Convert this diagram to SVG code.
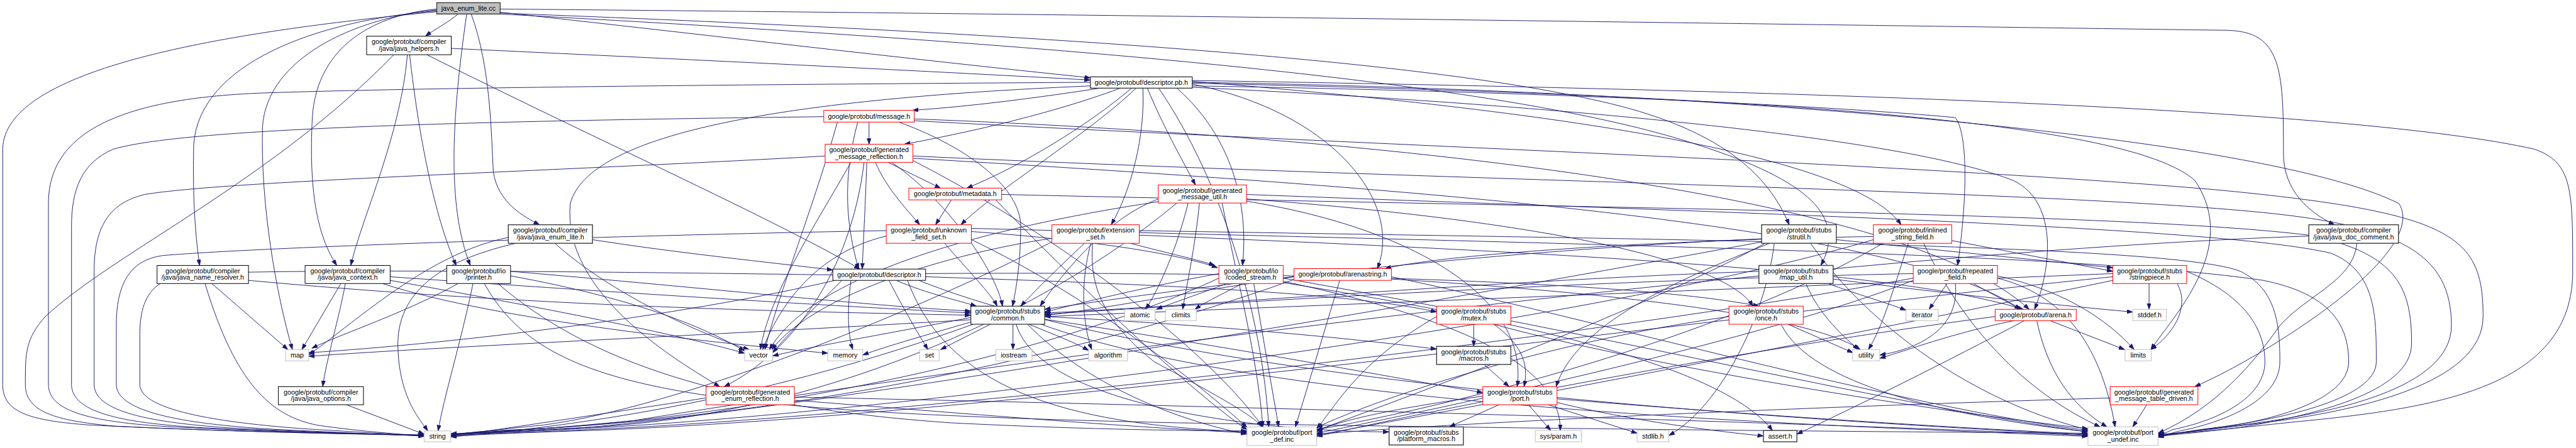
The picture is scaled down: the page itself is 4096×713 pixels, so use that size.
<svg xmlns="http://www.w3.org/2000/svg" width="4096" height="713" viewBox="0 0 4096 713">
<defs>
<style>
.e path{fill:none;stroke:#191970;stroke-width:1.3;marker-end:url(#a)}
.n rect{fill:#fff;stroke:#000;stroke-width:1.4}
.n.r rect{stroke:#ff0000}
.n.g rect{stroke:#bfbfbf}
.n.d rect{stroke:#404040;stroke-width:2}
.n.root rect{fill:#bfbfbf;stroke:#404040;stroke-width:2}
.n text{font-family:"Liberation Sans",Arial,sans-serif;font-size:15px;text-anchor:middle;fill:#000}
</style>
<marker id="a" markerWidth="14" markerHeight="10" refX="13" refY="4.5" orient="auto" markerUnits="userSpaceOnUse"><path d="M0,0 L13,4.5 L0,9 z" fill="#191970" stroke="#191970" stroke-width="1"/></marker>
</defs>
<rect width="4096" height="713" fill="#fff"/>
<g transform="scale(0.7197)">
<g id="edges" class="e">
<path d="M1012,31 C990,50 960,65 940,80"/>
<path d="M1031,31 C1000,250 985,450 1039,587"/>
<path d="M1041,31 C1085,150 1085,300 1090,380 C1100,450 1160,480 1192,497"/>
<path d="M965,20 C830,32 700,100 690,260 C682,420 700,520 744,587"/>
<path d="M965,22 C780,40 590,130 580,280 C575,450 610,650 646,773"/>
<path d="M965,24 C700,45 440,140 428,320 C425,450 433,530 441,587"/>
<path d="M965,26 C500,70 8,150 6,330 L6,850 C6,910 60,930 200,940 C500,955 800,960 937,962"/>
<path d="M1105,27 C1500,70 2000,130 2409,172"/>
<path d="M1105,20 C2500,32 4400,60 4920,67 C5040,70 5045,150 5045,340 C5045,420 5100,470 5158,497"/>
<path d="M1105,29 C2200,70 3200,130 3600,240 C3850,310 3920,420 3953,497"/>
<path d="M1105,31 C2200,90 3300,170 3750,320 C4000,400 4080,480 4023,587"/>
<path d="M997,107 C1600,135 2100,160 2409,177"/>
<path d="M905,121 C925,300 960,480 1008,587"/>
<path d="M900,121 C885,300 800,480 775,587"/>
<path d="M870,121 C600,400 250,560 100,700 C56,750 56,780 56,850 C56,910 120,930 250,942 C500,955 800,960 937,963"/>
<path d="M943,121 C1300,300 1700,480 1900,595"/>
<path d="M468,627 L636,773"/>
<path d="M453,627 C520,850 600,920 700,940 C800,955 900,961 937,964"/>
<path d="M549,620 C1200,680 1800,690 2145,697"/>
<path d="M753,627 L667,773"/>
<path d="M763,627 C750,700 720,800 713,855"/>
<path d="M862,612 C1400,650 1900,680 2145,692"/>
<path d="M862,620 C1200,680 1500,740 1645,781"/>
<path d="M845,627 C1100,710 1600,760 1829,781"/>
<path d="M765,895 L937,960"/>
<path d="M1045,627 C1020,750 980,880 968,953"/>
<path d="M1012,627 C900,690 750,740 689,770"/>
<path d="M1128,610 C1400,660 1550,720 1645,776"/>
<path d="M1128,600 C1600,640 1900,675 2145,688"/>
<path d="M1100,627 C1300,800 1600,900 2100,935 C2400,950 2600,952 2755,953"/>
<path d="M1070,627 C1200,860 1500,910 2600,935 C3500,950 4200,955 4613,958"/>
<path d="M1309,530 C1500,560 1700,580 1840,597"/>
<path d="M1123,525 C950,560 800,700 682,785"/>
<path d="M1226,538 C1350,650 1550,740 1655,773"/>
<path d="M1140,538 C1000,570 880,630 879,760 C880,880 930,930 945,953"/>
<path d="M2430,195 C2300,215 2150,235 2016,244"/>
<path d="M2475,195 C2300,260 2100,300 1998,319"/>
<path d="M2500,195 C2400,280 2250,370 2136,416"/>
<path d="M2510,195 C2400,300 2200,420 2123,497"/>
<path d="M2525,195 C2530,300 2500,420 2455,497"/>
<path d="M2535,195 C2570,280 2610,350 2641,409"/>
<path d="M2409,182 C1800,186 1000,192 600,205 C250,215 107,300 107,450 L107,850 C107,910 200,935 400,945 C650,957 850,961 937,962"/>
<path d="M2600,195 C2720,300 2760,450 2745,587"/>
<path d="M2634,186 C2950,250 3100,450 3043,594"/>
<path d="M2634,182 C3800,200 5000,300 5300,450 C5370,560 5000,790 4849,855"/>
<path d="M2634,180 C3500,250 4100,350 4200,497"/>
<path d="M2634,190 C3300,200 4000,230 4320,260 C4350,300 4345,450 4325,587"/>
<path d="M2634,193 C3400,230 4200,300 4450,400 C4550,450 4530,600 4495,684"/>
<path d="M2634,184 C3800,210 4700,260 4850,400 C4950,550 4800,700 4752,773"/>
<path d="M2634,178 C4000,200 5200,240 5600,330 C5684,360 5684,420 5684,600 C5684,850 5400,900 5100,930 C4950,945 4850,958 4768,960"/>
<path d="M2560,195 C2700,400 2790,700 2803,944"/>
<path d="M2409,190 C1700,220 1300,300 1260,450 C1240,650 1500,800 1590,855"/>
<path d="M1920,270 L1920,319"/>
<path d="M1986,270 C2150,330 2255,420 2255,500 C2255,580 2245,640 2237,677"/>
<path d="M1820,258 C1000,268 400,285 250,330 C180,360 158,420 158,500 L158,850 C158,910 260,935 450,946 C680,957 860,961 937,962"/>
<path d="M1850,270 C1800,450 1720,650 1690,773"/>
<path d="M1895,270 C1860,400 1870,500 1897,595"/>
<path d="M2020,263 C3000,300 4200,420 4483,684"/>
<path d="M2020,267 C3000,320 4200,360 4900,420 C5420,470 5486,520 5486,700 C5486,850 5200,910 5000,935 C4900,948 4820,958 4768,961"/>
<path d="M1962,359 L2078,416"/>
<path d="M1934,359 C1960,420 2010,470 2032,497"/>
<path d="M1823,345 C1200,380 500,400 320,430 C235,450 208,510 208,600 L208,850 C208,910 330,935 520,947 C720,957 870,961 937,963"/>
<path d="M1909,359 C1880,600 1750,780 1600,855"/>
<path d="M1915,359 C1912,450 1908,520 1905,595"/>
<path d="M1970,359 C2100,450 2200,600 2215,677"/>
<path d="M1880,359 C1800,500 1700,650 1680,773"/>
<path d="M2017,345 C3200,400 4500,420 5000,470 C5300,500 5416,560 5416,720 C5416,860 5150,915 4950,940 C4870,950 4810,958 4768,962"/>
<path d="M2017,355 C2300,500 2650,750 2790,944"/>
<path d="M2017,350 C3200,420 4200,500 4464,684"/>
<path d="M2102,442 L2067,497"/>
<path d="M2213,430 C3500,460 4700,470 5100,520 C5300,560 5328,640 5328,760 C5328,870 5100,920 4950,945 C4870,955 4800,962 4768,964"/>
<path d="M2200,442 C2400,650 2650,880 2755,950"/>
<path d="M2559,440 C2450,480 2350,600 2298,677"/>
<path d="M2625,449 C2600,550 2560,640 2531,684"/>
<path d="M2650,449 C2640,550 2620,640 2613,684"/>
<path d="M2600,449 C2300,700 1800,920 1300,945 C1150,952 1050,958 996,960"/>
<path d="M2559,446 C2200,500 1800,600 1700,773"/>
<path d="M2754,430 C3800,470 4900,500 5150,560 C5250,600 5250,700 5250,800 C5250,880 5050,925 4900,945 C4840,952 4800,960 4768,965"/>
<path d="M2700,449 C2730,600 2780,800 2790,944"/>
<path d="M2754,440 C3300,480 3800,560 3873,677"/>
<path d="M2754,445 C3100,500 3380,650 3352,855"/>
<path d="M2087,538 C2140,600 2190,650 2203,677"/>
<path d="M1958,510 C1400,520 600,545 360,565 C285,575 257,630 257,720 L257,850 C257,910 400,937 600,949 C780,958 880,962 937,964"/>
<path d="M1958,522 C1800,560 1720,680 1685,773"/>
<path d="M2146,512 C2400,530 2600,560 2690,592"/>
<path d="M2146,530 C2400,650 2650,850 2755,945"/>
<path d="M2146,505 C3500,540 4600,560 5000,620 C5150,650 5189,720 5189,800 C5189,890 5000,935 4880,948 C4830,955 4790,963 4768,966"/>
<path d="M2396,538 C2330,600 2280,650 2255,677"/>
<path d="M2410,538 C2380,650 2400,740 2412,773"/>
<path d="M2324,527 C2100,560 1800,650 1705,773"/>
<path d="M2497,538 C2580,560 2650,575 2684,587"/>
<path d="M2414,538 C2408,620 2425,700 2550,800 C2700,880 2770,920 2788,944"/>
<path d="M2517,510 C3700,530 4800,540 4950,600 C5030,640 5037,720 5037,800 C5037,890 4900,935 4830,950 C4800,956 4780,964 4768,967"/>
<path d="M2324,535 C2000,700 1500,900 1200,940 C1100,950 1030,958 996,961"/>
<path d="M2517,520 C3500,560 4200,600 4470,684"/>
<path d="M1980,620 C2050,650 2120,665 2157,677"/>
<path d="M1964,620 C2000,690 2030,740 2050,773"/>
<path d="M1860,620 C1800,680 1740,740 1707,780"/>
<path d="M1880,620 C1870,700 1875,745 1884,773"/>
<path d="M1845,620 C1500,700 1000,760 682,780"/>
<path d="M1840,608 C1300,600 700,595 430,605 C335,612 309,660 309,740 L309,850 C309,910 500,937 700,950 C840,958 900,962 937,965"/>
<path d="M2005,620 C2100,880 2400,940 2755,955"/>
<path d="M2045,605 C2800,600 3600,620 3886,677"/>
<path d="M2045,612 C2600,630 3000,650 3174,690"/>
<path d="M2030,620 C2600,850 4000,930 4613,962"/>
<path d="M2710,627 C2650,650 2590,670 2555,684"/>
<path d="M2745,627 C2700,650 2660,670 2640,684"/>
<path d="M2770,627 L2825,944"/>
<path d="M2693,605 C2500,640 2350,680 2308,690"/>
<path d="M2693,615 C2300,800 1600,930 1150,950 C1080,955 1030,958 996,962"/>
<path d="M2835,615 C3600,750 4200,900 4613,955"/>
<path d="M2835,622 C3200,700 3450,800 3447,952"/>
<path d="M2835,625 C3300,700 3800,800 3916,952"/>
<path d="M2859,612 C2600,650 2400,690 2308,697"/>
<path d="M2960,620 L2862,944"/>
<path d="M3074,612 C3500,700 4200,900 4613,952"/>
<path d="M3074,617 C3600,650 4000,700 4110,773"/>
<path d="M2859,618 C2300,820 1600,935 1100,952 C1050,955 1020,958 996,963"/>
<path d="M2188,717 L2078,773"/>
<path d="M2238,717 L2238,773"/>
<path d="M2273,717 C2330,740 2380,760 2405,775"/>
<path d="M2145,702 C1950,740 1800,765 1707,787"/>
<path d="M2145,707 C1600,740 1000,765 682,788"/>
<path d="M2150,717 C1700,880 1300,940 996,966"/>
<path d="M2145,712 C2050,740 1960,765 1906,785"/>
<path d="M2308,700 C2700,720 3000,750 3174,772"/>
<path d="M2308,706 C2800,780 3100,840 3276,868"/>
<path d="M2245,717 C2300,900 2800,955 3069,955"/>
<path d="M2270,717 C2400,850 2600,930 2755,960"/>
<path d="M2300,717 C2800,900 4000,940 4613,965"/>
<path d="M3256,717 L3256,766"/>
<path d="M3300,717 C3375,770 3375,820 3367,855"/>
<path d="M3174,700 C3000,800 2950,900 2909,948"/>
<path d="M3300,717 C3600,800 4200,900 4613,948"/>
<path d="M3279,806 L3334,855"/>
<path d="M3312,895 L3202,944"/>
<path d="M3377,895 L3426,952"/>
<path d="M3420,895 L3617,958"/>
<path d="M3276,876 C3100,900 2950,930 2909,955"/>
<path d="M3440,882 C3900,920 4300,945 4613,960"/>
<path d="M3440,890 C3600,930 3800,955 3896,964"/>
<path d="M3920,538 C3900,700 3800,900 3687,963"/>
<path d="M3892,528 C3200,560 2600,640 2308,684"/>
<path d="M4057,530 L4668,592"/>
<path d="M3892,535 C3000,700 1800,900 1300,945 C1150,955 1050,958 996,960"/>
<path d="M3900,538 C3600,700 3100,880 2909,952"/>
<path d="M4000,538 C4150,750 4400,900 4613,950"/>
<path d="M3910,538 C3700,620 3480,720 3438,855"/>
<path d="M4216,538 C4180,650 4160,720 4128,773"/>
<path d="M4312,532 L4668,600"/>
<path d="M4139,523 C3700,530 3200,560 3060,594"/>
<path d="M4139,530 C3500,720 2000,910 1300,947 C1150,955 1050,959 996,961"/>
<path d="M4160,538 C3800,750 3200,900 2909,950"/>
<path d="M4250,538 C4350,750 4500,880 4640,944"/>
<path d="M5101,522 C4000,560 2200,800 1400,930 C1200,950 1050,957 996,959"/>
<path d="M5207,538 C5200,620 5100,650 5037,720 C4980,800 4900,900 4768,958"/>
<path d="M3990,627 C4020,700 4080,750 4106,773"/>
<path d="M4039,627 C4100,650 4170,670 4211,686"/>
<path d="M4050,617 C4300,650 4600,680 4712,690"/>
<path d="M3886,600 C3300,620 2600,680 2308,692"/>
<path d="M4302,627 L4262,684"/>
<path d="M4360,627 C4400,650 4440,670 4464,684"/>
<path d="M4320,627 C4330,720 4250,770 4153,785"/>
<path d="M4413,610 C4550,640 4650,700 4715,773"/>
<path d="M4413,615 C4550,650 4640,750 4673,944"/>
<path d="M4227,620 C3900,750 3200,900 2909,958"/>
<path d="M4227,615 C3500,750 2000,920 1300,950 C1150,957 1050,960 996,963"/>
<path d="M4227,605 C3500,620 2700,670 2308,695"/>
<path d="M4748,627 L4748,684"/>
<path d="M4810,627 C4840,680 4800,740 4752,773"/>
<path d="M4668,612 C3800,700 2200,920 1300,952 C1150,957 1050,961 996,965"/>
<path d="M4668,620 C4000,760 3200,910 2909,962"/>
<path d="M4831,600 C4950,650 5004,720 5004,800 C5004,880 4900,930 4800,950 C4790,955 4780,960 4768,958"/>
<path d="M4668,605 C3800,640 2800,680 2308,700"/>
<path d="M3950,717 L4094,780"/>
<path d="M3935,717 C4000,850 4300,920 4613,955"/>
<path d="M3820,700 C3400,760 3050,880 2909,945"/>
<path d="M4529,709 L4694,773"/>
<path d="M4450,709 C4300,740 4200,780 4153,792"/>
<path d="M4473,709 C4300,800 4100,900 3970,960"/>
<path d="M4500,709 C4530,850 4600,910 4655,944"/>
<path d="M4408,700 C3800,780 3200,900 2909,965"/>
<path d="M4743,895 L4712,944"/>
<path d="M4662,880 C4000,900 3300,930 2909,960"/>
<path d="M1560,880 C1300,920 1100,950 996,965"/>
<path d="M1755,885 C2200,920 2500,945 2755,957"/>
<path d="M1755,878 C2800,900 4000,935 4613,963"/>
</g>
<g id="n_root" class="n root"><rect x="965" y="6" width="140" height="25"/><text x="1035" y="24">java_enum_lite.cc</text></g>
<g id="n_jh" class="n"><rect x="810" y="80" width="187" height="41"/><text x="903.5" y="97">google/protobuf/compiler</text><text x="903.5" y="113">/java/java_helpers.h</text></g>
<g id="n_dpb" class="n d"><rect x="2409" y="170" width="225" height="25"/><text x="2521.5" y="188">google/protobuf/descriptor.pb.h</text></g>
<g id="n_msg" class="n r"><rect x="1820" y="244" width="200" height="26"/><text x="1920" y="262">google/protobuf/message.h</text></g>
<g id="n_gmr" class="n r"><rect x="1823" y="319" width="194" height="40"/><text x="1920" y="336">google/protobuf/generated</text><text x="1920" y="351">_message_reflection.h</text></g>
<g id="n_meta" class="n r"><rect x="2008" y="416" width="205" height="26"/><text x="2110.5" y="434">google/protobuf/metadata.h</text></g>
<g id="n_gmu" class="n r"><rect x="2559" y="409" width="195" height="40"/><text x="2656.5" y="426">google/protobuf/generated</text><text x="2656.5" y="441">_message_util.h</text></g>
<g id="n_jel" class="n d"><rect x="1123" y="497" width="186" height="41"/><text x="1216" y="514">google/protobuf/compiler</text><text x="1216" y="530">/java/java_enum_lite.h</text></g>
<g id="n_ufs" class="n r"><rect x="1958" y="497" width="188" height="41"/><text x="2052" y="514">google/protobuf/unknown</text><text x="2052" y="530">_field_set.h</text></g>
<g id="n_ext" class="n r"><rect x="2324" y="497" width="193" height="41"/><text x="2420.5" y="514">google/protobuf/extension</text><text x="2420.5" y="530">_set.h</text></g>
<g id="n_strutil" class="n d"><rect x="3892" y="497" width="165" height="41"/><text x="3974.5" y="514">google/protobuf/stubs</text><text x="3974.5" y="530">/strutil.h</text></g>
<g id="n_isf" class="n r"><rect x="4139" y="497" width="173" height="41"/><text x="4225.5" y="514">google/protobuf/inlined</text><text x="4225.5" y="530">_string_field.h</text></g>
<g id="n_jdc" class="n d"><rect x="5101" y="497" width="198" height="41"/><text x="5200" y="514">google/protobuf/compiler</text><text x="5200" y="530">/java/java_doc_comment.h</text></g>
<g id="n_jnr" class="n"><rect x="347" y="587" width="202" height="40"/><text x="448" y="604">google/protobuf/compiler</text><text x="448" y="619">/java/java_name_resolver.h</text></g>
<g id="n_jctx" class="n"><rect x="674" y="587" width="188" height="40"/><text x="768" y="604">google/protobuf/compiler</text><text x="768" y="619">/java/java_context.h</text></g>
<g id="n_prn" class="n"><rect x="987" y="587" width="141" height="40"/><text x="1057.5" y="604">google/protobuf/io</text><text x="1057.5" y="619">/printer.h</text></g>
<g id="n_desc" class="n"><rect x="1840" y="595" width="205" height="25"/><text x="1942.5" y="613">google/protobuf/descriptor.h</text></g>
<g id="n_cs" class="n r"><rect x="2693" y="587" width="142" height="40"/><text x="2764" y="604">google/protobuf/io</text><text x="2764" y="619">/coded_stream.h</text></g>
<g id="n_astr" class="n r"><rect x="2859" y="594" width="215" height="26"/><text x="2966.5" y="612">google/protobuf/arenastring.h</text></g>
<g id="n_mapu" class="n d"><rect x="3886" y="587" width="164" height="40"/><text x="3968" y="604">google/protobuf/stubs</text><text x="3968" y="619">/map_util.h</text></g>
<g id="n_rf" class="n r"><rect x="4227" y="587" width="186" height="40"/><text x="4320" y="604">google/protobuf/repeated</text><text x="4320" y="619">_field.h</text></g>
<g id="n_sp" class="n r"><rect x="4668" y="587" width="163" height="40"/><text x="4749.5" y="604">google/protobuf/stubs</text><text x="4749.5" y="619">/stringpiece.h</text></g>
<g id="n_common" class="n"><rect x="2145" y="677" width="163" height="40"/><text x="2226.5" y="694">google/protobuf/stubs</text><text x="2226.5" y="709">/common.h</text></g>
<g id="n_atomic" class="n g"><rect x="2485" y="684" width="67" height="25"/><text x="2518.5" y="702">atomic</text></g>
<g id="n_climits" class="n g"><rect x="2575" y="684" width="68" height="25"/><text x="2609" y="702">climits</text></g>
<g id="n_mutex" class="n r"><rect x="3174" y="677" width="164" height="40"/><text x="3256" y="694">google/protobuf/stubs</text><text x="3256" y="709">/mutex.h</text></g>
<g id="n_once" class="n r"><rect x="3820" y="677" width="164" height="40"/><text x="3902" y="694">google/protobuf/stubs</text><text x="3902" y="709">/once.h</text></g>
<g id="n_iter" class="n g"><rect x="4211" y="684" width="71" height="25"/><text x="4246.5" y="702">iterator</text></g>
<g id="n_arena" class="n r"><rect x="4408" y="684" width="179" height="25"/><text x="4497.5" y="702">google/protobuf/arena.h</text></g>
<g id="n_stddef" class="n g"><rect x="4712" y="684" width="74" height="25"/><text x="4749" y="702">stddef.h</text></g>
<g id="n_map" class="n g"><rect x="631" y="773" width="51" height="25"/><text x="656.5" y="791">map</text></g>
<g id="n_vector" class="n g"><rect x="1645" y="773" width="62" height="25"/><text x="1676" y="791">vector</text></g>
<g id="n_memory" class="n g"><rect x="1829" y="773" width="77" height="25"/><text x="1867.5" y="791">memory</text></g>
<g id="n_set" class="n g"><rect x="2032" y="773" width="43" height="25"/><text x="2053.5" y="791">set</text></g>
<g id="n_iostream" class="n g"><rect x="2200" y="773" width="80" height="25"/><text x="2240" y="791">iostream</text></g>
<g id="n_algo" class="n g"><rect x="2405" y="773" width="86" height="25"/><text x="2448" y="791">algorithm</text></g>
<g id="n_macros" class="n d"><rect x="3174" y="766" width="164" height="40"/><text x="3256" y="783">google/protobuf/stubs</text><text x="3256" y="798">/macros.h</text></g>
<g id="n_util" class="n g"><rect x="4093" y="773" width="60" height="25"/><text x="4123" y="791">utility</text></g>
<g id="n_limits" class="n g"><rect x="4695" y="773" width="58" height="25"/><text x="4724" y="791">limits</text></g>
<g id="n_jopt" class="n"><rect x="615" y="855" width="188" height="40"/><text x="709" y="872">google/protobuf/compiler</text><text x="709" y="887">/java/java_options.h</text></g>
<g id="n_ger" class="n r"><rect x="1560" y="855" width="195" height="40"/><text x="1657.5" y="872">google/protobuf/generated</text><text x="1657.5" y="887">_enum_reflection.h</text></g>
<g id="n_port" class="n r"><rect x="3276" y="855" width="164" height="40"/><text x="3358" y="872">google/protobuf/stubs</text><text x="3358" y="887">/port.h</text></g>
<g id="n_gmtd" class="n r"><rect x="4662" y="855" width="194" height="40"/><text x="4759" y="872">google/protobuf/generated</text><text x="4759" y="887">_message_table_driven.h</text></g>
<g id="n_string" class="n g"><rect x="937" y="953" width="59" height="24"/><text x="966.5" y="970">string</text></g>
<g id="n_pdef" class="n g"><rect x="2755" y="944" width="154" height="41"/><text x="2832" y="961">google/protobuf/port</text><text x="2832" y="977">_def.inc</text></g>
<g id="n_plat" class="n d"><rect x="3069" y="944" width="164" height="40"/><text x="3151" y="961">google/protobuf/stubs</text><text x="3151" y="976">/platform_macros.h</text></g>
<g id="n_sysp" class="n g"><rect x="3392" y="952" width="102" height="25"/><text x="3443" y="970">sys/param.h</text></g>
<g id="n_stdlib" class="n g"><rect x="3617" y="952" width="70" height="25"/><text x="3652" y="970">stdlib.h</text></g>
<g id="n_assert" class="n d"><rect x="3896" y="952" width="74" height="25"/><text x="3933" y="970">assert.h</text></g>
<g id="n_pundef" class="n g"><rect x="4613" y="944" width="155" height="41"/><text x="4690.5" y="961">google/protobuf/port</text><text x="4690.5" y="977">_undef.inc</text></g>
</g>
</svg>
